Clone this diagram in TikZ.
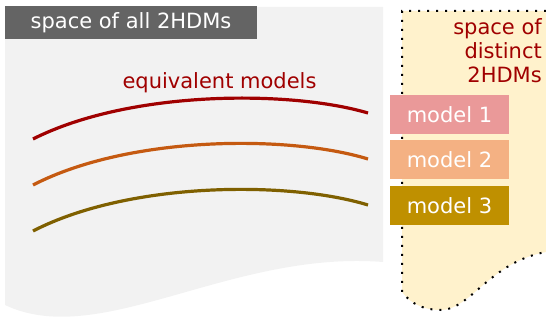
\documentclass[tikz,border=0pt]{standalone}
\usepackage{fontspec}
\setmainfont{DejaVu Sans}
\definecolor{bggray}{HTML}{F2F2F2}
\definecolor{labgray}{HTML}{646464}
\definecolor{ylw}{HTML}{FFF2CC}
\definecolor{dred}{HTML}{A00000}
\definecolor{cred}{HTML}{A00000}
\definecolor{corange}{HTML}{C55A11}
\definecolor{colive}{HTML}{7F6000}
\definecolor{mone}{HTML}{EA9999}
\definecolor{mtwo}{HTML}{F4B183}
\definecolor{mthree}{HTML}{BF9000}
\tikzset{
  modelbox/.style={minimum width=119pt, minimum height=39pt, inner sep=0pt, text=white},
  curve/.style={line width=3.2pt},
  redtext/.style={text=dred, inner sep=0pt},
}
\begin{document}
\begin{tikzpicture}[x=1pt,y=-1pt,font=\fontsize{21}{24}\selectfont]
\useasboundingbox (0,0) rectangle (546,320);
\clip (0,0) rectangle (546,320);
% space of all 2HDMs
\fill[bggray] (5,7) -- (383,7) -- (383,262) .. controls (230,250) and (100,350) .. (5,305) -- cycle;
% space of distinct 2HDMs
\path[fill=ylw, draw=black, line width=2pt, dash pattern=on 2pt off 7pt]
  (600,11) -- (402,11) -- (402,292) .. controls (412,305) and (425,310) .. (441,310)
  .. controls (470,310) and (490,262) .. (546,252) .. controls (560,250) .. (600,248) -- cycle;
\node[fill=labgray, text=white, minimum width=252pt, minimum height=33pt, inner sep=0pt] (lab) at (131,22.5) {space of all 2HDMs};
\node[redtext, anchor=base] (eq) at (219.5,89) {equivalent models};
\node[redtext, anchor=base east] (t1) at (542,35) {space of};
\node[redtext, anchor=base east] (t2) at (542,59) {distinct};
\node[redtext, anchor=base east] (t3) at (542,83) {2HDMs};
\draw[curve, cred] (33,139) .. controls (130,90) and (290,90) .. (368,113);
\draw[curve, corange] (33,185) .. controls (130,135) and (290,135) .. (368,159);
\draw[curve, colive] (33,231) .. controls (130,181) and (290,181) .. (368,205);
\node[modelbox, fill=mone] (m1) at (449.5,114.5) {model 1};
\node[modelbox, fill=mtwo] (m2) at (449.5,159.5) {model 2};
\node[modelbox, fill=mthree] (m3) at (449.5,206) {model 3};
\end{tikzpicture}
\end{document}
